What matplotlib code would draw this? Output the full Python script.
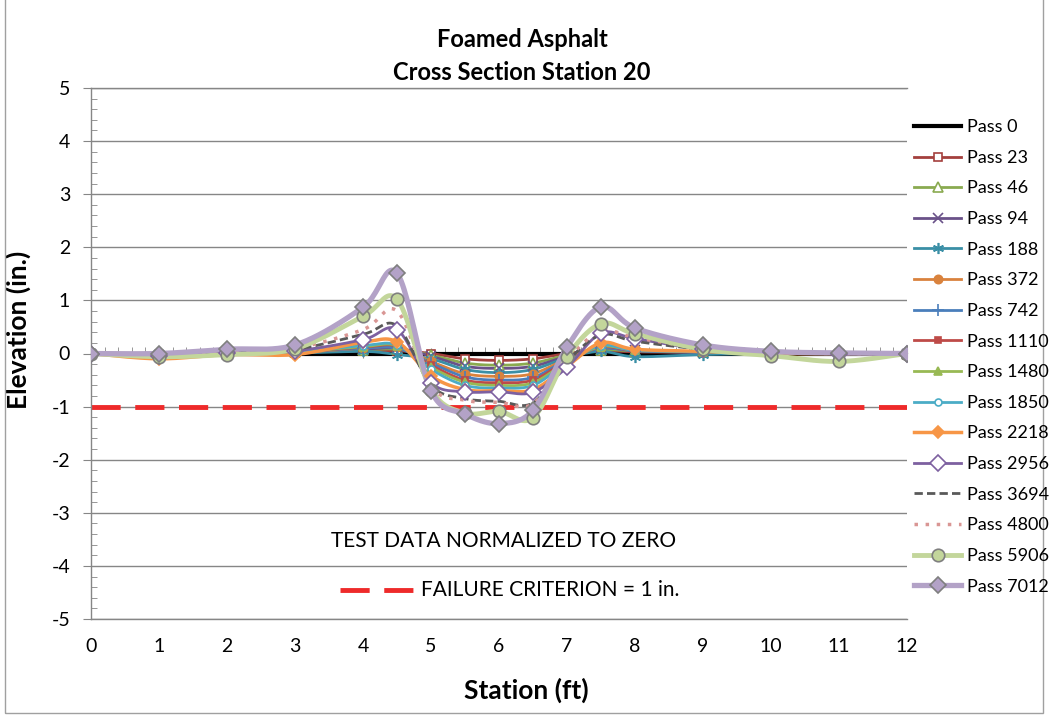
import numpy as np
import matplotlib
matplotlib.use("Agg")
import matplotlib.pyplot as plt
from matplotlib.lines import Line2D
from matplotlib.patches import Rectangle

plt.rcParams['font.family'] = ['Lato', 'DejaVu Sans']
plt.rcParams['axes.unicode_minus'] = False

# Survey stations across the section (ft)
stations = [0, 1, 2, 3, 4, 4.5, 5, 5.5, 6, 6.5, 7, 7.5, 8, 9, 10, 11, 12]

# Elevation change (in.) at each station, one list per traffic pass count
pass_0    = [0, 0, 0, 0, 0, 0, 0, 0, 0, 0, 0, 0, 0, 0, 0, 0, 0]
pass_23   = [0, -0.02, 0, 0.02, 0.05, 0.05, 0, -0.10, -0.13, -0.10, 0, 0.05, 0.03, 0.02, 0, 0, 0]
pass_46   = [0, -0.03, 0, 0.02, 0.07, 0.08, -0.03, -0.18, -0.22, -0.18, -0.03, 0.07, 0.05, 0.03, 0, 0, 0]
pass_94   = [0, -0.03, 0.01, 0.03, 0.08, 0.10, -0.05, -0.24, -0.28, -0.24, -0.05, 0.10, 0.06, 0.03, 0.01, 0, 0]
pass_188  = [0, -0.04, 0, 0.01, 0.04, -0.02, -0.10, -0.30, -0.36, -0.30, -0.08, 0.04, -0.06, -0.02, 0, 0, 0]
pass_372  = [0, -0.05, 0, 0.02, 0.10, 0.12, -0.15, -0.38, -0.43, -0.38, -0.10, 0.12, 0.06, 0.03, 0, 0, 0]
pass_742  = [0, -0.04, 0, 0.03, 0.10, 0.10, -0.18, -0.44, -0.50, -0.45, -0.12, 0.10, 0.05, 0.02, 0, 0, 0]
pass_1110 = [0, -0.05, 0, 0.03, 0.12, 0.14, -0.22, -0.50, -0.55, -0.50, -0.14, 0.12, 0.06, 0.03, 0, 0, 0]
pass_1480 = [0, -0.05, 0, 0.03, 0.13, 0.15, -0.26, -0.54, -0.60, -0.55, -0.16, 0.13, 0.07, 0.03, 0, 0, 0]
pass_1850 = [0, -0.06, 0, 0.03, 0.15, 0.16, -0.30, -0.60, -0.65, -0.60, -0.18, 0.15, 0.06, 0.03, 0, 0, 0]
pass_2218 = [0, -0.10, -0.02, -0.02, 0.21, 0.22, -0.42, -0.68, -0.70, -0.68, -0.24, 0.20, 0.08, 0.04, 0, 0, 0]
pass_2956 = [0, -0.05, 0.01, 0.05, 0.26, 0.45, -0.55, -0.72, -0.72, -0.73, -0.26, 0.38, 0.28, 0.08, 0.02, 0, 0]
pass_3694 = [0, -0.04, 0.02, 0.08, 0.36, 0.52, -0.60, -0.85, -0.90, -0.93, -0.15, 0.35, 0.23, 0.08, 0.02, 0, 0]
pass_4800 = [0, -0.04, 0.02, 0.10, 0.45, 0.80, -0.62, -0.88, -0.92, -0.95, -0.12, 0.42, 0.30, 0.10, 0.02, 0, 0]
pass_5906 = [0, -0.06, -0.02, 0.09, 0.70, 1.02, -0.68, -1.12, -1.09, -1.21, -0.06, 0.56, 0.37, 0.08, -0.04, -0.15, 0]
pass_7012 = [0, 0.0, 0.08, 0.16, 0.87, 1.51, -0.70, -1.14, -1.32, -1.07, 0.12, 0.88, 0.48, 0.16, 0.04, 0.01, 0]

labels = ["Pass 0", "Pass 23", "Pass 46", "Pass 94", "Pass 188", "Pass 372", "Pass 742",
          "Pass 1110", "Pass 1480", "Pass 1850", "Pass 2218", "Pass 2956", "Pass 3694",
          "Pass 4800", "Pass 5906", "Pass 7012"]
series = [pass_0, pass_23, pass_46, pass_94, pass_188, pass_372, pass_742, pass_1110,
          pass_1480, pass_1850, pass_2218, pass_2956, pass_3694, pass_4800, pass_5906, pass_7012]

failure_x = [0, 12]
failure_y = [-1, -1]

x_ticks = list(range(0, 13))
y_ticks = list(range(-5, 6))

# line / marker styling per series
styles = [
    dict(color="#000000", lw=3.0, marker=None),
    dict(color="#A4403D", lw=2.0, marker="s", mfc="white", ms=6),
    dict(color="#8AAA50", lw=2.0, marker="^", mfc="white", ms=7),
    dict(color="#6A5289", lw=2.0, marker="x", ms=7),
    dict(color="#3A8FA6", lw=2.0, marker=(6, 2, 0), ms=8),
    dict(color="#D9823D", lw=2.0, marker="o", ms=6),
    dict(color="#4A7EBB", lw=2.0, marker="+", ms=8),
    dict(color="#BE4B48", lw=2.0, marker="s", ms=5),
    dict(color="#98B954", lw=2.0, marker="^", ms=6),
    dict(color="#4BACC6", lw=2.0, marker="o", mfc="white", ms=5),
    dict(color="#F79646", lw=2.5, marker="D", ms=6),
    dict(color="#7D60A0", lw=2.0, marker="D", mfc="white", ms=8),
    dict(color="#595959", lw=2.0, ls=(0, (3, 1.5)), marker=None),
    dict(color="#D99694", lw=2.5, ls=(0, (1, 2.2)), marker=None),
    dict(color="#C3D69B", lw=3.5, marker="o", mfc="#C3D69B", mec="#7F7F7F", ms=9),
    dict(color="#B3A2C7", lw=3.8, marker="D", mfc="#B3A2C7", mec="#7F7F7F", ms=8),
]


def smooth(xs, ys, n=24):
    """Catmull-Rom curve through the points (spreadsheet-style smoothed line)."""
    p = np.column_stack([xs, ys]).astype(float)
    p = np.vstack([p[0], p, p[-1]])
    out = []
    t = np.linspace(0, 1, n, endpoint=False)[:, None]
    for i in range(1, len(p) - 2):
        p0, p1, p2, p3 = p[i - 1], p[i], p[i + 1], p[i + 2]
        m1 = (p2 - p0) / 2.0
        m2 = (p3 - p1) / 2.0
        h00 = 2 * t**3 - 3 * t**2 + 1
        h10 = t**3 - 2 * t**2 + t
        h01 = -2 * t**3 + 3 * t**2
        h11 = t**3 - t**2
        out.append(h00 * p1 + h10 * m1 + h01 * p2 + h11 * m2)
    out.append(p[-2][None, :])
    c = np.vstack(out)
    return c[:, 0], c[:, 1]


fig = plt.figure(figsize=(10.52, 7.15), dpi=100)
ax = fig.add_axes([91 / 1052, 1 - 619 / 715, 816 / 1052, 531 / 715])

grid_c = "#868686"
ax.set_xlim(0, 12)
ax.set_ylim(-5, 5)
ax.set_yticks(y_ticks)
ax.set_xticks(x_ticks)
ax.yaxis.set_minor_locator(matplotlib.ticker.MultipleLocator(0.2))
ax.grid(axis="y", which="major", color=grid_c, lw=1.0)
ax.set_axisbelow(True)
for s in ["top", "bottom", "left"]:
    ax.spines[s].set_color(grid_c)
    ax.spines[s].set_linewidth(1.0)
ax.spines["right"].set_visible(False)
ax.tick_params(axis="y", which="major", direction="out", length=6, color=grid_c,
               labelsize=14, pad=9)
ax.tick_params(axis="y", which="minor", direction="in", length=4, color=grid_c)
ax.tick_params(axis="x", which="major", length=0, labelsize=14, pad=14)

# horizontal axis line crossing at zero elevation
sec = ax.secondary_xaxis(0.5)
sec.set_xticks(x_ticks)
sec.xaxis.set_minor_locator(matplotlib.ticker.MultipleLocator(0.2))
sec.tick_params(which="major", direction="inout", length=7, color=grid_c, labelbottom=False)
sec.tick_params(which="minor", direction="out", length=4, color=grid_c)
sec.spines["bottom"].set_color(grid_c)
sec.set_xticklabels([])

# failure criterion
ax.plot(failure_x, failure_y, color="#EE2A2A", lw=3.5, ls=(0, (6, 3)), zorder=2)

handles = []
for lab, ys, st in zip(labels, series, styles):
    sx, sy = smooth(stations, ys)
    color = st["color"]
    ls = st.get("ls", "-")
    ax.plot(sx, sy, color=color, lw=st["lw"], ls=ls, zorder=3, solid_capstyle="round")
    mk = st.get("marker")
    if mk is not None:
        ax.plot(stations, ys, ls="none", marker=mk, ms=st.get("ms", 6),
                mfc=st.get("mfc", color), mec=st.get("mec", color), mew=1.2, zorder=4)
    handles.append(Line2D([], [], color=color, lw=st["lw"], ls=ls, marker=mk,
                          ms=st.get("ms", 6), mfc=st.get("mfc", color),
                          mec=st.get("mec", color), mew=1.2))

fig.legend(handles, labels, loc="upper left", bbox_to_anchor=(907 / 1052, 1 - 112 / 715),
           frameon=False, fontsize=13, handlelength=2.6, labelspacing=0.81,
           handletextpad=0.3, borderaxespad=0)

ax.set_xlabel("Station (ft)", fontsize=19, fontweight="bold")
ax.set_ylabel("Elevation (in.)", fontsize=19, fontweight="bold")
ax.xaxis.set_label_coords(0.533, -0.11)
ax.yaxis.set_label_coords(-0.0735, 0.544)

fig.text(522 / 1052, 1 - 56 / 715, "Foamed Asphalt\nCross Section Station 20",
         ha="center", va="center", fontsize=17, fontweight="bold", linespacing=1.55)

# in-plot notes
ax.text(0.505, 0.146, "TEST DATA NORMALIZED TO ZERO", transform=ax.transAxes,
        ha="center", va="center", fontsize=15)
ax.add_line(Line2D([(340 - 91) / 816, (415 - 91) / 816], [(619 - 590) / 531] * 2,
                   transform=ax.transAxes, color="#EE2A2A", lw=3.5, ls=(0, (6, 3))))
ax.text((421 - 91) / 816, (619 - 590) / 531, "FAILURE CRITERION = 1 in.",
        transform=ax.transAxes, ha="left", va="center", fontsize=15)

# chart frame
fig.patches.append(Rectangle((5 / 1052, 2 / 715), 1038 / 1052, 720 / 715,
                             transform=fig.transFigure, fill=False, ec="#A0A0A0", lw=1.0))

fig.savefig("out.png", dpi=100)
